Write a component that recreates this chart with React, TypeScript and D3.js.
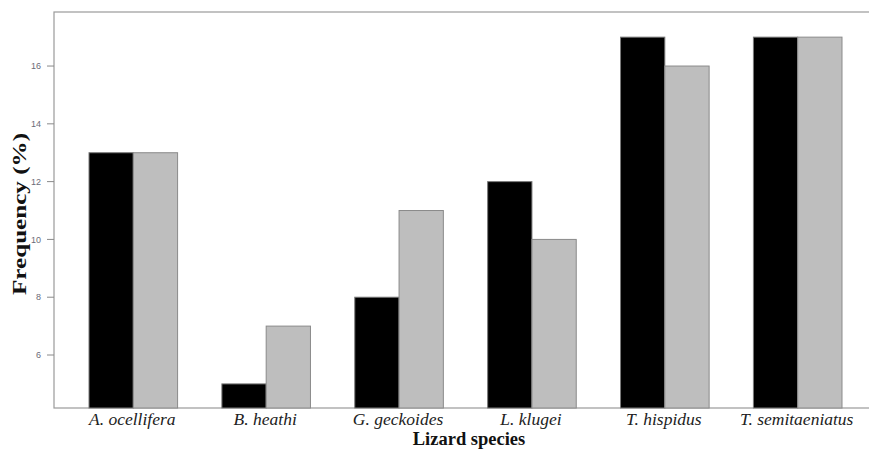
import React from "react";
import * as d3 from "d3";

const categories = ["A. ocellifera", "B. heathi", "G. geckoides", "L. klugei", "T. hispidus", "T. semitaeniatus"];
const seriesNames = ["s1", "s2"];
const series1 = [13, 5, 8, 12, 17, 17];
const series2 = [13, 7, 11, 10, 16, 17];
const yTicks = [6, 8, 10, 12, 14, 16];
const colors = ["#000000", "#bebebe"];
const strokes = ["#7a7a7a", "#8a8a8a"];

const W = 869;
const H = 450;
const plotLeft = 54;
const plotTop = 12;
const plotBottom = 408;
const plotRight = 890;

export default function App() {
  const x = d3.scaleBand<string>().domain(categories).range([89, 842]).paddingInner(1 / 3).paddingOuter(0);
  const xs = d3.scaleBand<string>().domain(seriesNames).range([0, x.bandwidth()]).padding(0);
  const y = d3.scaleLinear().domain([4.166, 17.87]).range([plotBottom, plotTop]);
  const data = [series1, series2];

  return (
    <svg width={W} height={H} style={{ position: "absolute", left: 0, top: 0, background: "#fff" }}>
      <rect x={plotLeft} y={plotTop} width={plotRight - plotLeft} height={plotBottom - plotTop} fill="none" stroke="#9a9a9a" strokeWidth={1.2} />
      {categories.map((c, i) => (
        <g key={c} transform={`translate(${x(c)},0)`}>
          {seriesNames.map((s, j) => (
            <rect
              key={s}
              x={xs(s)}
              y={y(data[j][i])}
              width={xs.bandwidth()}
              height={plotBottom - y(data[j][i])}
              fill={colors[j]}
              stroke={strokes[j]}
              strokeWidth={1}
            />
          ))}
        </g>
      ))}
      {yTicks.map((t) => (
        <g key={t} transform={`translate(0,${y(t)})`}>
          <line x1={47} x2={plotLeft} stroke="#8a8a8a" strokeWidth={1} />
          <text x={41} dy="0.35em" textAnchor="end" fontFamily="Liberation Sans, Arial, sans-serif" fontSize={9} fill="#6b6b78">
            {t}
          </text>
        </g>
      ))}
      {categories.map((c) => (
        <text key={c} x={(x(c) as number) + x.bandwidth() / 2 - 1} y={425} textAnchor="middle" fontFamily="Liberation Serif, Times New Roman, serif" fontStyle="italic" fontSize={17.5} fill="#222">
          {c}
        </text>
      ))}
      <text x={469} y={445} textAnchor="middle" fontFamily="Liberation Serif, Times New Roman, serif" fontWeight="bold" fontSize={18.5} fill="#111">
        Lizard species
      </text>
      <text transform={`translate(26,214) rotate(-90)`} textAnchor="middle" textLength={162} lengthAdjust="spacingAndGlyphs" fontFamily="Liberation Serif, Times New Roman, serif" fontWeight="bold" fontSize={19} fill="#111">
        Frequency (%)
      </text>
    </svg>
  );
}
